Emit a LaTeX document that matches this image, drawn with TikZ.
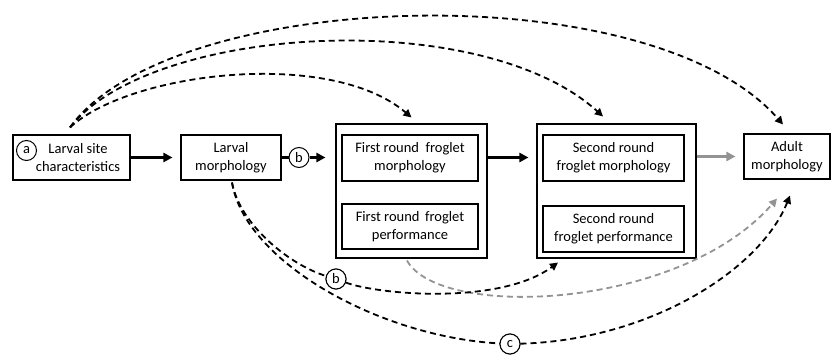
\documentclass[tikz,border=0pt]{standalone}
\usepackage{fontspec}
\setmainfont{Carlito}
\usetikzlibrary{arrows.meta,calc}
\newcommand\figfont{\fontsize{14.5}{18}\selectfont}
\begin{document}
\begin{tikzpicture}[x=1pt,y=-1pt,
  box/.style={draw, line width=1.1pt, inner sep=0pt, align=center, font=\figfont},
  txt/.style={inner sep=0pt, align=center, font=\figfont},
  lbl/.style={draw, circle, line width=1pt, fill=white, minimum size=20pt, inner sep=0pt, font=\figfont},
  main/.style={line width=2.4pt, -{Triangle[length=9pt,width=9pt]}, shorten >=8pt},
  dsh/.style={line width=1.8pt, dash pattern=on 6pt off 4pt, -{Triangle[length=8pt,width=8pt]}},
  grayc/.style={draw=gray!85}
]
\useasboundingbox (0,0) rectangle (831,355);
% boxes
\node[box, minimum width=117pt, minimum height=45pt] (site) at (71.5,157.5) {};
\node[txt] (sitetxt) at (78,158) {Larval site\\characteristics};
\node[lbl] (ca) at (26.5,150.5) {a};
\node[box, minimum width=100pt, minimum height=45pt] (larv) at (231,157.5) {Larval\\morphology};
\node[box, minimum width=151pt, minimum height=134pt] (out1) at (411.5,191) {};
\node[box, minimum width=136pt, minimum height=46pt] (fm) at (410,158) {First round \ froglet\\morphology};
\node[box, minimum width=136pt, minimum height=45pt] (fp) at (410,226.5) {First round \,froglet\\performance};
\node[box, minimum width=159pt, minimum height=134pt] (out2) at (616.5,191) {};
\node[box, minimum width=141pt, minimum height=46pt] (sm) at (613.5,158) {Second round\\froglet morphology};
\node[box, minimum width=141pt, minimum height=46pt] (sp) at (613.5,229) {Second round\\froglet performance};
\node[box, minimum width=86pt, minimum height=45pt] (adult) at (787,156.5) {Adult\\morphology};
% main arrows
\draw[main] (site.east) -- (larv.west);
\node[lbl] (bup) at (299,157.5) {b};
\draw[line width=2.4pt] (larv.east) -- (bup);
\draw[main, shorten >=10pt] (bup) -- (out1.west |- bup);
\draw[main] (out1.east |- bup) -- (out2.west |- bup);
\draw[main, grayc] (out2.east |- adult.west) -- (adult.west);
% top arcs
\coordinate (s0) at ($(site.north)+(-1.5,-7)$);
\draw[dsh] (s0) .. controls (130,72) and (330,48) .. ($(out1.north)+(0,-6)$);
\draw[dsh] (s0) .. controls (150,25) and (480,5) .. ($(out2.north)+(-13.5,-7)$);
\draw[dsh] (s0) .. controls (170,-12) and (650,-28) .. ($(adult.north)+(-4,-9)$);
% bottom arcs
\node[lbl] (blow) at (336,279) {b};
\node[lbl] (cl) at (510,344) {c};
\draw[dsh, grayc] ($(out1.south)+(-4.5,2)$) .. controls (440,320) and (680,310) .. ($(adult.south)+(-10,19)$);
\draw[dsh, -] ($(larv.south)+(1,2)$) .. controls (240,225) and (290,265) .. (blow);
\draw[dsh] (blow) .. controls (380,295) and (500,305) .. ($(out2.south)+(-58.5,4)$);
\draw[dsh, -] ($(larv.south)+(1,2)$) .. controls (245,262) and (380,337) .. (cl);
\draw[dsh] (cl) .. controls (650,340) and (760,270) .. ($(adult.south)+(3,16)$);
\node[lbl] at (blow) {b};
\node[lbl] at (cl) {c};
\end{tikzpicture}
\end{document}
